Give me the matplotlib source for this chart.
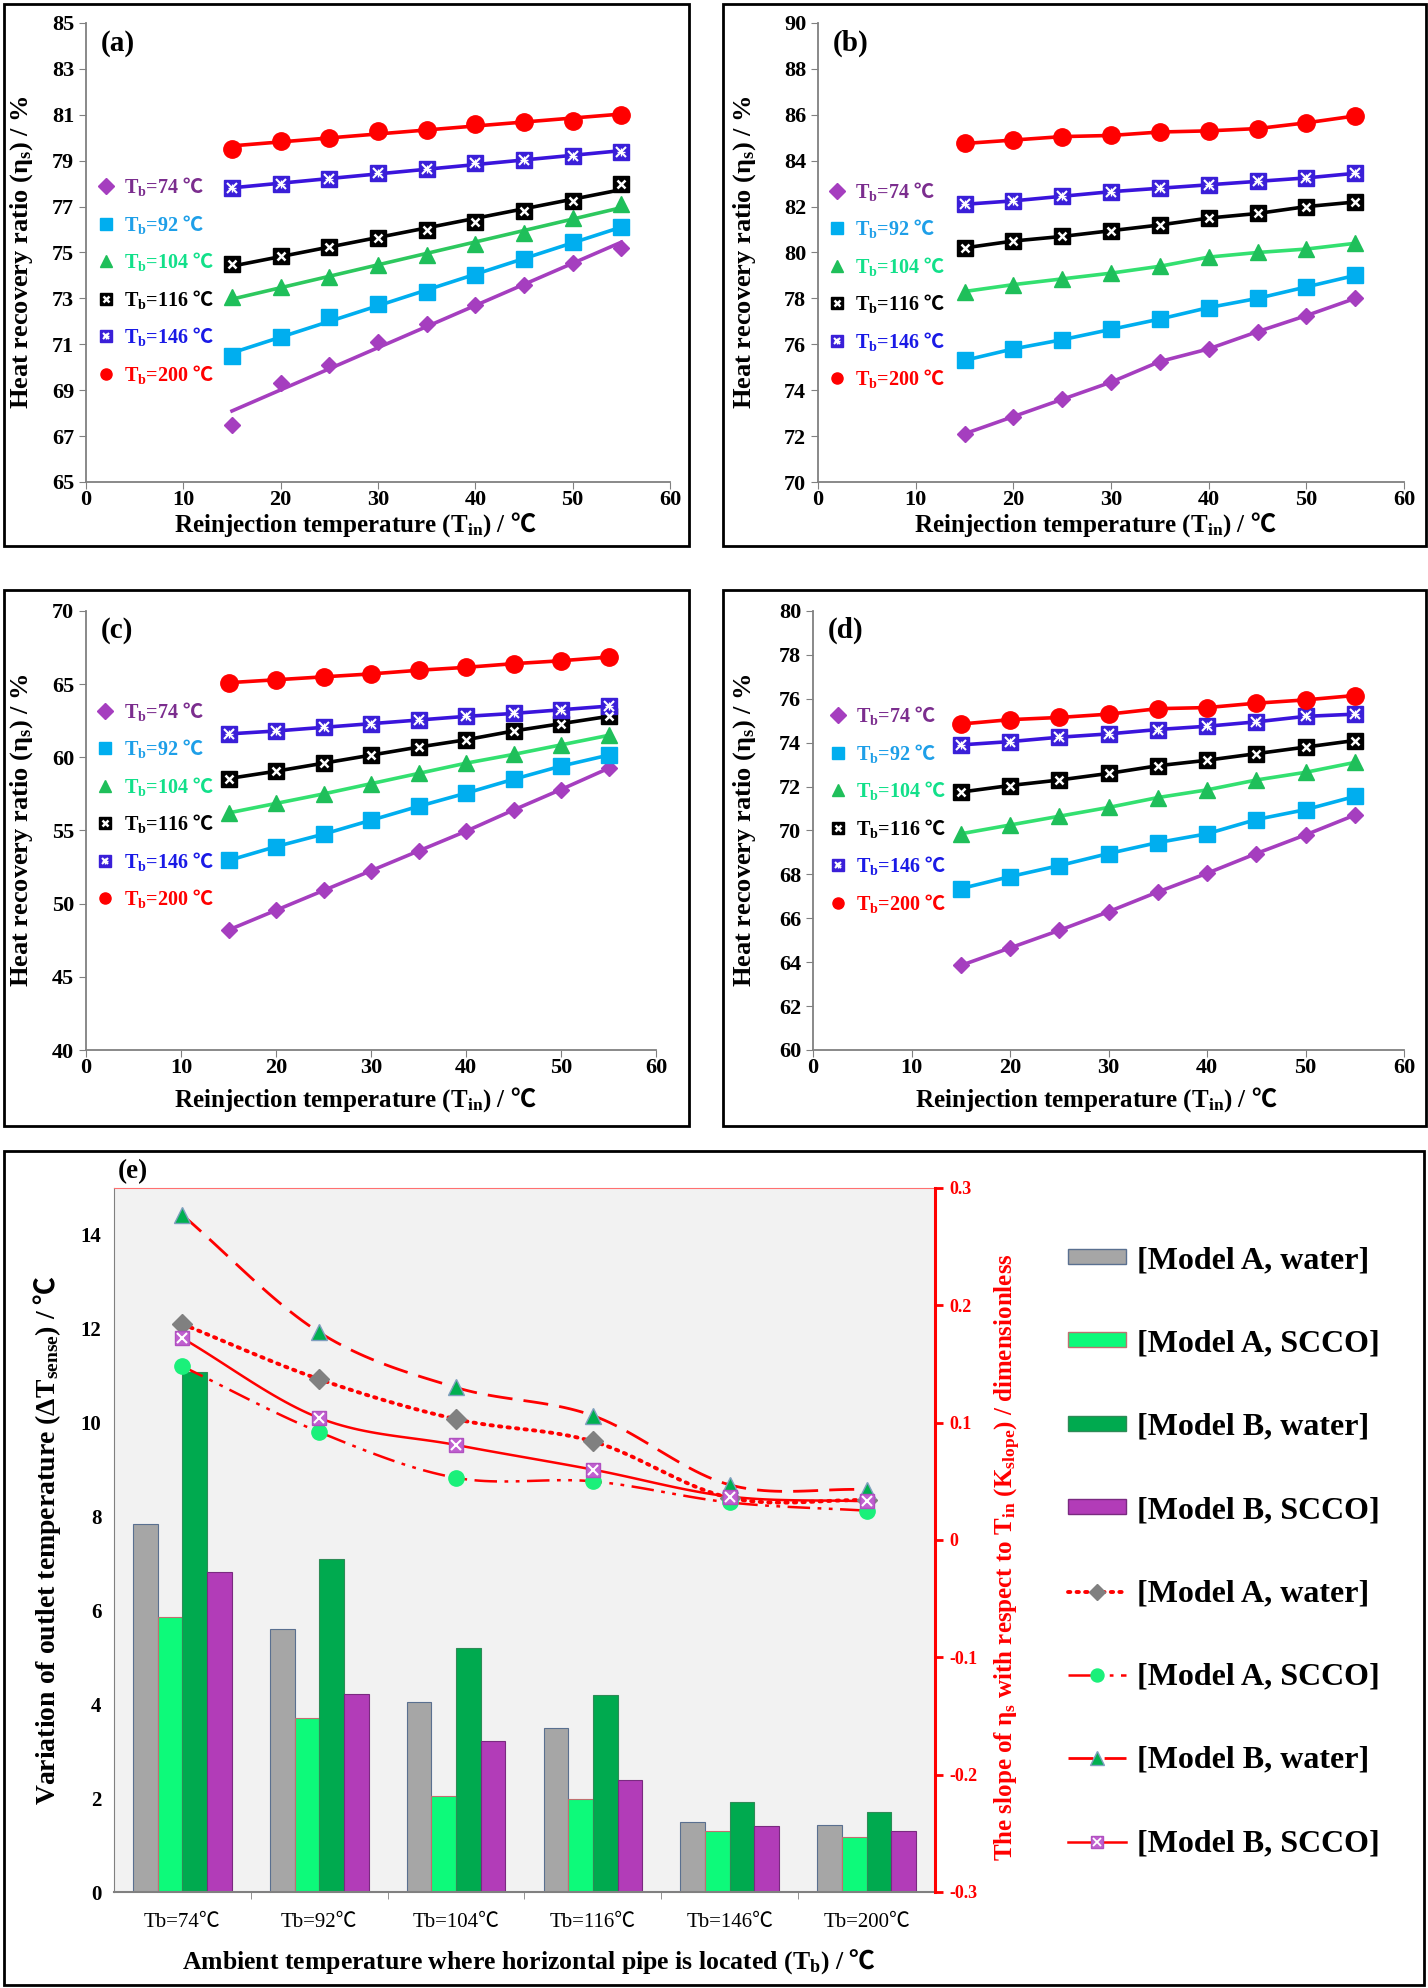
import numpy as np
import matplotlib
matplotlib.use("Agg")
import matplotlib.pyplot as plt
from matplotlib.lines import Line2D
from matplotlib.patches import Patch, Rectangle

plt.rcParams['font.family'] = ['Liberation Serif', 'Noto Sans CJK SC', 'DejaVu Serif']
plt.rcParams['font.weight'] = 'bold'
plt.rcParams['mathtext.fontset'] = 'custom'
plt.rcParams['mathtext.rm'] = 'Liberation Serif:bold'
plt.rcParams['mathtext.it'] = 'Liberation Serif:bold'
plt.rcParams['mathtext.bf'] = 'Liberation Serif:bold'
# the degree-Celsius sign is taken from a CJK font inside mathtext strings
plt.rcParams['mathtext.sf'] = 'Noto Sans CJK SC'
plt.rcParams['axes.unicode_minus'] = False

DEG = '$\\mathsf{℃}$'

# ---- data: heat recovery ratio vs reinjection temperature ----
t_in = [15, 20, 25, 30, 35, 40, 45, 50, 55]
tb_names = ['74', '92', '104', '116', '146', '200']

# panel (a)
a74 = [67.5, 69.3, 70.1, 71.1, 71.9, 72.7, 73.6, 74.55, 75.2]
a92 = [70.5, 71.3, 72.2, 72.75, 73.3, 74.0, 74.7, 75.45, 76.1]
a104 = [73.05, 73.5, 73.95, 74.45, 74.9, 75.35, 75.85, 76.5, 77.1]
a116 = [74.5, 74.85, 75.25, 75.65, 76.0, 76.35, 76.8, 77.25, 78.0]
a146 = [77.8, 78.0, 78.2, 78.45, 78.65, 78.9, 79.05, 79.2, 79.4]
a200 = [79.5, 79.85, 80.0, 80.3, 80.35, 80.6, 80.7, 80.75, 81.0]
# panel (b)
b74 = [72.1, 72.85, 73.6, 74.35, 75.25, 75.8, 76.55, 77.25, 78.0]
b92 = [75.3, 75.8, 76.2, 76.65, 77.1, 77.6, 78.0, 78.5, 79.0]
b104 = [78.3, 78.6, 78.85, 79.1, 79.4, 79.8, 80.0, 80.15, 80.4]
b116 = [80.2, 80.5, 80.7, 80.95, 81.2, 81.5, 81.7, 82.0, 82.2]
b146 = [82.1, 82.25, 82.45, 82.65, 82.8, 82.95, 83.1, 83.25, 83.45]
b200 = [84.75, 84.9, 85.05, 85.1, 85.25, 85.3, 85.4, 85.65, 85.95]
# panel (c)
c74 = [48.2, 49.55, 50.9, 52.25, 53.6, 54.95, 56.4, 57.8, 59.25]
c92 = [52.95, 53.9, 54.75, 55.7, 56.65, 57.55, 58.5, 59.4, 60.15]
c104 = [56.2, 56.85, 57.5, 58.2, 58.9, 59.6, 60.2, 60.85, 61.5]
c116 = [58.55, 59.05, 59.6, 60.15, 60.7, 61.2, 61.8, 62.3, 62.8]
c146 = [61.6, 61.8, 62.05, 62.3, 62.55, 62.8, 63.0, 63.25, 63.5]
c200 = [65.1, 65.3, 65.5, 65.7, 65.95, 66.15, 66.4, 66.6, 66.85]
# panel (d)
d74 = [63.85, 64.65, 65.45, 66.3, 67.2, 68.05, 68.95, 69.8, 70.7]
d92 = [67.35, 67.9, 68.4, 68.95, 69.45, 69.85, 70.5, 70.95, 71.55]
d104 = [69.85, 70.25, 70.65, 71.05, 71.5, 71.85, 72.3, 72.65, 73.1]
d116 = [71.75, 72.05, 72.3, 72.6, 72.95, 73.2, 73.5, 73.8, 74.1]
d146 = [73.9, 74.05, 74.25, 74.4, 74.6, 74.75, 74.95, 75.2, 75.3]
d200 = [74.85, 75.05, 75.15, 75.3, 75.55, 75.6, 75.8, 75.95, 76.15]

# ---- data: panel (e) ----
cats = ['Tb=74℃', 'Tb=92℃', 'Tb=104℃', 'Tb=116℃', 'Tb=146℃', 'Tb=200℃']
dT_A_water = [7.84, 5.6, 4.05, 3.49, 1.5, 1.43]
dT_A_scco = [5.86, 3.7, 2.05, 1.98, 1.3, 1.17]
dT_B_water = [11.08, 7.09, 5.19, 4.2, 1.91, 1.7]
dT_B_scco = [6.82, 4.22, 3.21, 2.38, 1.4, 1.3]
k_A_water = [0.184, 0.137, 0.103, 0.084, 0.036, 0.034]
k_A_scco = [0.148, 0.092, 0.053, 0.050, 0.032, 0.025]
k_B_water = [0.277, 0.177, 0.130, 0.106, 0.047, 0.043]
k_B_scco = [0.172, 0.104, 0.081, 0.060, 0.037, 0.033]

# ---- styles ----
line_col = ['#A53EBF', '#00AEEF', '#33E070', 'black', '#3A14DC', '#FF0000']
mark_col = ['#A53EBF', '#00AEEF', '#1FBF5A', 'black', '#3A1FD8', '#FF0000']
text_col = ['#7B2D8E', '#1E9FE8', '#12E08A', 'black', '#1A1AE6', '#FF0000']
markers = ['D', 's', '^', 's', 's', 'o']
msizes = [8.5, 11, 11, 11, 11, 12.5]

W, H = 1428, 1988
fig = plt.figure(figsize=(W / 100, H / 100), dpi=100)


def px_axes(l, t, r, b):
    return fig.add_axes([l / W, 1 - b / H, (r - l) / W, (b - t) / H])


def frame(l, t, r, b):
    fig.add_artist(Rectangle((l / W, 1 - b / H), (r - l) / W, (b - t) / H,
                             transform=fig.transFigure, fill=False,
                             lw=2, ec='black'))


def overlay(i):
    # white cross patterns drawn over the squares of 116 and 146 series
    if i == 3:
        return [dict(marker='x', ms=6, mew=1.8, color='white')]
    if i == 4:
        return [dict(marker='x', ms=6.5, mew=1.5, color='white'),
                dict(marker='+', ms=5.5, mew=1.0, color='white')]
    return []


def eta_panel(box, rect, series, ylim, ystep, letter, fit, leg_xy, ylab_x, xlab_xy):
    frame(*box)
    ax = px_axes(*rect)
    x = np.array(t_in)
    handles = []
    for i, ys in enumerate(series):
        ys = np.array(ys)
        col = line_col[i]
        if fit:
            if i == 2:
                col = '#2DC85E'
            k, c = np.polyfit(x, ys, 1)
            ax.plot(x, k * x + c, color=col, lw=2.6, zorder=2)
        else:
            ax.plot(x, ys, color=col, lw=2.6, zorder=2)
        ax.plot(x, ys, ls='none', marker=markers[i], ms=msizes[i],
                color=mark_col[i], mec=mark_col[i], zorder=3)
        parts = [Line2D([], [], ls='none', marker=markers[i], ms=8,
                        color=mark_col[i], mec=mark_col[i])]
        for ov in overlay(i):
            ax.plot(x, ys, ls='none', zorder=4, **ov)
            small = dict(ov)
            small['ms'] = ov['ms'] * 0.7
            parts.append(Line2D([], [], ls='none', **small))
        handles.append(tuple(parts) if len(parts) > 1 else parts[0])
    labels = ['T$_\\mathrm{b}$=%s %s' % (n, DEG) for n in tb_names]
    leg = ax.legend(handles, labels, loc='upper left', bbox_to_anchor=leg_xy,
                    frameon=False, prop={'size': 14.5, 'weight': 'bold'},
                    handlelength=0.8, handletextpad=0.5, labelspacing=0.72,
                    borderpad=0, borderaxespad=0)
    for t, c in zip(leg.get_texts(), text_col):
        t.set_color(c)
    ax.set_xlim(0, 60)
    ax.set_ylim(*ylim)
    ax.set_xticks(range(0, 61, 10))
    ax.set_yticks(np.arange(ylim[0], ylim[1] + 0.01, ystep))
    for s in ['top', 'right']:
        ax.spines[s].set_visible(False)
    for s in ['left', 'bottom']:
        ax.spines[s].set_color('#808080')
        ax.spines[s].set_linewidth(1.3)
    ax.tick_params(direction='out', length=5, color='#808080', labelsize=16)
    ax.tick_params(axis='x', pad=1)
    for lab in ax.get_xticklabels() + ax.get_yticklabels():
        lab.set_fontweight('bold')
    ax.set_ylabel('Heat recovery ratio (η$_\\mathrm{s}$) / %', fontsize=19,
                  fontweight='bold')
    ax.set_xlabel('Reinjection temperature (T$_\\mathrm{in}$) / ' + DEG,
                  fontsize=18, fontweight='bold')
    ax.yaxis.set_label_coords(ylab_x, 0.5)
    ax.xaxis.set_label_coords(*xlab_xy)
    ax.text(0.025, 0.955, letter, transform=ax.transAxes, fontsize=21,
            fontweight='bold', ha='left', va='center')
    return ax


eta_panel((4, 4, 689, 546), (86, 23, 670, 482), [a74, a92, a104, a116, a146, a200],
          (65, 85), 2, '(a)', True, (0.02, 0.668), -0.087, (0.462, -0.062))
eta_panel((723, 4, 1426, 546), (818, 23, 1404, 482), [b74, b92, b104, b116, b146, b200],
          (70, 90), 2, '(b)', False, (0.018, 0.658), -0.102, (0.474, -0.062))
eta_panel((4, 590, 689, 1126), (86, 611, 656, 1050), [c74, c92, c104, c116, c146, c200],
          (40, 70), 5, '(c)', False, (0.02, 0.798), -0.089, (0.472, -0.080))
eta_panel((723, 590, 1426, 1126), (813, 611, 1404, 1050), [d74, d92, d104, d116, d146, d200],
          (60, 80), 2, '(d)', False, (0.028, 0.788), -0.093, (0.479, -0.080))


# ---- panel (e) ----
def smooth(xs, ys, n=24):
    # Catmull-Rom curve through the points, like a smoothed spreadsheet line
    p = np.column_stack([xs, ys]).astype(float)
    p = np.vstack([2 * p[0] - p[1], p, 2 * p[-1] - p[-2]])
    out = []
    t = np.linspace(0, 1, n, endpoint=False)[:, None]
    for i in range(1, len(p) - 2):
        p0, p1, p2, p3 = p[i - 1], p[i], p[i + 1], p[i + 2]
        seg = 0.5 * (2 * p1 + (-p0 + p2) * t + (2 * p0 - 5 * p1 + 4 * p2 - p3) * t ** 2
                     + (-p0 + 3 * p1 - 3 * p2 + p3) * t ** 3)
        out.append(seg)
    out.append(p[-2][None])
    c = np.vstack(out)
    return c[:, 0], c[:, 1]


frame(4, 1151, 1424, 1985)
ax = px_axes(114, 1188, 935, 1892)
ax.set_facecolor('#F2F2F2')
xc = np.arange(len(cats))
bw = 0.18
bar_specs = [
    (dT_A_water, '#A6A6A6', '#5A7090', '[Model A, water]'),
    (dT_A_scco, '#0DFA7A', '#C07070', '[Model A, SCCO]'),
    (dT_B_water, '#00AA4F', '#2E8B57', '[Model B, water]'),
    (dT_B_scco, '#B23CB8', '#7A2A80', '[Model B, SCCO]'),
]
bar_handles = []
for j, (vals, fc, ec, lab) in enumerate(bar_specs):
    ax.bar(xc + (j - 1.5) * bw, vals, bw, color=fc, edgecolor=ec, lw=0.8, zorder=2)
    bar_handles.append(Patch(facecolor=fc, edgecolor=ec, lw=1.0))

ax.set_xlim(-0.5, 5.5)
ax.set_ylim(0, 15)
ax.set_yticks(range(0, 15, 2))
ax.set_xticks(xc)
ax.set_xticklabels(cats, fontweight='normal', fontsize=15)
ax.set_xticks(np.arange(0.5, 5, 1), minor=True)
ax.tick_params(axis='x', which='major', length=0, pad=15)
ax.tick_params(axis='x', which='minor', length=5, color='#808080', direction='out')
ax.tick_params(axis='y', length=0, pad=9, labelsize=15)
for lab in ax.get_yticklabels():
    lab.set_fontweight('bold')
ax.spines['left'].set_color('#808080')
ax.spines['bottom'].set_color('#808080')
ax.spines['bottom'].set_linewidth(1.5)
ax.spines['top'].set_color('#FF7070')
ax.spines['right'].set_visible(False)
ax.set_ylabel('Variation of outlet temperature (ΔT$_\\mathrm{sense}$) / ' + DEG,
              fontsize=20, fontweight='bold')
ax.yaxis.set_label_coords(-0.062, 0.5)
ax.set_xlabel('Ambient temperature where horizontal pipe is located (T$_\\mathrm{b}$) / ' + DEG,
              fontsize=18.5, fontweight='bold')
ax.xaxis.set_label_coords(0.505, -0.079)

ax2 = ax.twinx()
ax2.set_ylim(-0.3, 0.3)
kt = [-0.3, -0.2, -0.1, 0, 0.1, 0.2, 0.3]
ax2.set_yticks(kt)
ax2.set_yticklabels(['-0.3', '-0.2', '-0.1', '0', '0.1', '0.2', '0.3'],
                    fontweight='bold')
ax2.tick_params(axis='y', colors='red', length=6, width=2, direction='out',
                labelsize=13, pad=4)
for s in ['left', 'top', 'bottom']:
    ax2.spines[s].set_visible(False)
ax2.spines['right'].set_color('red')
ax2.spines['right'].set_linewidth(2.2)
ax2.set_ylabel('The slope of η$_\\mathrm{s}$ with respect to T$_\\mathrm{in}$ '
               '(K$_\\mathrm{slope}$) / dimensionless', color='red', fontsize=18,
               fontweight='bold')
ax2.yaxis.set_label_coords(1.071, 0.475)

line_specs = [
    (k_A_water, (0, (0.6, 1.6)), 2.8, 'D', 10, '#808080', '#808080', '[Model A, water]'),
    (k_A_scco, (0, (9, 3, 1.5, 3, 1.5, 3)), 1.8, 'o', 11, '#1AF07A', '#1AF07A', '[Model A, SCCO]'),
    (k_B_water, (0, (9, 4)), 2.0, '^', 12, '#00B050', '#7F9FBF', '[Model B, water]'),
    (k_B_scco, '-', 1.8, 's', 9.5, '#C060D0', '#B050C0', '[Model B, SCCO]'),
]
line_handles = []
for vals, ls, lw, mk, ms, fc, ec, lab in line_specs:
    sx, sy = smooth(xc, vals)
    dash_cap = 'round' if lw > 2.5 else 'butt'
    ax2.plot(sx, sy, color='red', ls=ls, lw=lw, zorder=3, dash_capstyle=dash_cap)
    ax2.plot(xc, vals, ls='none', marker=mk, ms=ms, mfc=fc, mec=ec, mew=1.0, zorder=4)
    h = Line2D([], [], color='red', ls=ls, lw=lw, marker=mk, ms=ms * 0.85, mfc=fc,
               mec=ec, dash_capstyle=dash_cap)
    if mk == 's':
        ax2.plot(xc, vals, ls='none', marker='x', ms=6.5, mew=1.5, color='white', zorder=5)
        h = (h, Line2D([], [], ls='none', marker='x', ms=5.5, mew=1.3, color='white'))
    line_handles.append(h)

labels_e = [s[3] for s in bar_specs] + [s[7] for s in line_specs]
leg = fig.legend(bar_handles + line_handles, labels_e, loc='upper left',
                 bbox_to_anchor=(1068 / W, 1 - 1246 / H), frameon=False,
                 prop={'size': 23, 'weight': 'bold'}, handlelength=1.8,
                 handleheight=0.35, handletextpad=0.35, labelspacing=1.7,
                 borderpad=0, borderaxespad=0, numpoints=1)
fig.text(118 / W, 1 - 1172 / H, '(e)', fontsize=19.5, fontweight='bold',
         ha='left', va='center')

fig.savefig('out.png', dpi=100)
